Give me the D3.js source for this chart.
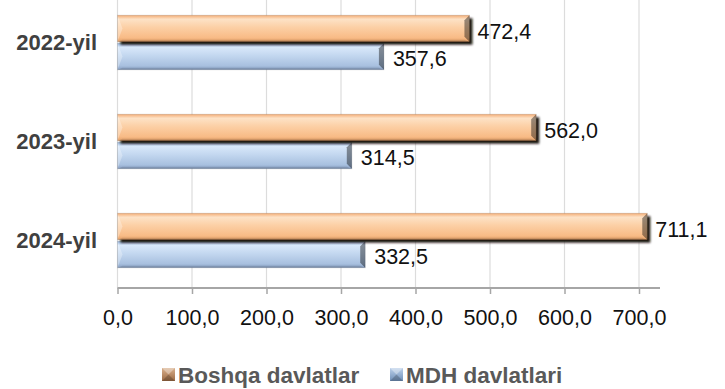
<!DOCTYPE html>
<html>
<head>
<meta charset="utf-8">
<script src="https://cdn.jsdelivr.net/npm/d3@7"></script>
<style>
  body { margin: 0; background: #fff; }
  svg { display: block; }
</style>
</head>
<body>
<div id="chart"></div>
<script>
// values
const years = ["2022-yil", "2023-yil", "2024-yil"];
const boshqa = [472.4, 562.0, 711.1];   // Boshqa davlatlar
const mdh = [357.6, 314.5, 332.5];      // MDH davlatlari
const ticks = [0, 100, 200, 300, 400, 500, 600, 700];
const seriesNames = ["Boshqa davlatlar", "MDH davlatlari"];

const W = 725, H = 389;
const left = 117.5, axisY = 288;

const fmt = v => v.toFixed(1).replace(".", ",");

let svg = d3.select("#chart").append("svg")
    .attr("width", W)
    .attr("height", H)
    .style("font-family", "'Liberation Sans', Arial, sans-serif");

let defs = svg.append("defs");

// gradients for the bevelled bars
function vgrad(id, stops) {
    let g = defs.append("linearGradient").attr("id", id)
        .attr("x1", 0).attr("y1", 0).attr("x2", 0).attr("y2", 1);
    stops.forEach(s => g.append("stop").attr("offset", s[0]).attr("stop-color", s[1]));
}
vgrad("gOrange", [[0, "#f4ad76"], [0.15, "#fde2c6"], [0.45, "#fcd0a6"], [0.85, "#f8bb86"], [1, "#e29f68"]]);
vgrad("gBlue", [[0, "#9bbae1"], [0.15, "#d9e8fa"], [0.45, "#c4d8f0"], [0.85, "#a8c0df"], [1, "#889fc2"]]);
vgrad("gOrangeM", [[0, "#d9b08c"], [1, "#9c6a44"]]);
vgrad("gBlueM", [[0, "#bcd0ea"], [1, "#6f8fb8"]]);

defs.append("filter").attr("id", "blur")
    .attr("x", "-10%").attr("y", "-30%").attr("width", "120%").attr("height", "160%")
  .append("feGaussianBlur").attr("stdDeviation", 1.2);

let x = d3.scaleLinear().domain([0, 700]).range([left, 639]);
let xMax = x.invert(660);

let y = d3.scaleBand().domain(years).range([-7, 290]).paddingInner(0.45).paddingOuter(0.225);
let ySub = d3.scaleBand().domain(seriesNames).range([0, y.bandwidth()]).paddingInner(0.06);

// vertical gridlines
svg.append("g").selectAll("line")
    .data(ticks)
    .join("line")
    .attr("x1", d => x(d)).attr("x2", d => x(d))
    .attr("y1", 0).attr("y2", axisY)
    .attr("stroke", "#dcdcdc")
    .attr("stroke-width", 1.2);

// bottom axis
let axis = d3.axisBottom(x.copy().domain([0, xMax]).range([left, 660]))
    .tickValues(ticks)
    .tickSize(6)
    .tickFormat(fmt);

let ax = svg.append("g")
    .attr("transform", `translate(0,${axisY})`)
    .call(axis);
ax.select(".domain").attr("stroke", "#a6a6a6").attr("stroke-width", 2)
    .attr("d", `M${left},0H660`);
ax.selectAll(".tick line").attr("stroke", "#a6a6a6").attr("stroke-width", 1.5);
ax.selectAll(".tick text")
    .attr("y", 22)
    .attr("fill", "#111")
    .style("font-size", "21.5px");

// bars
function bevelBar(g, x0, y0, w, h, fill) {
    let b = Math.min(5, h / 4);
    let x1 = x0 + w, y1 = y0 + h;
    g.append("rect").attr("x", x0).attr("y", y0).attr("width", w).attr("height", h)
        .attr("fill", fill);
    g.append("polygon")
        .attr("points", [[x0, y0], [x0 + b, y0 + h / 2], [x0, y1]].join(" "))
        .attr("fill", "#fff").attr("opacity", 0.3);
    g.append("polygon")
        .attr("points", [[x1, y0], [x1 - b, y0 + b], [x1 - b, y1 - b], [x1, y1]].join(" "))
        .attr("fill", "#000").attr("opacity", 0.4);
    g.append("polygon")
        .attr("points", [[x0, y1], [x1, y1], [x1 - b, y1 - 2], [x0 + b, y1 - 2]].join(" "))
        .attr("fill", "#000").attr("opacity", 0.12);
    g.append("rect").attr("x", x0).attr("y", y0).attr("width", w).attr("height", h)
        .attr("fill", "none").attr("stroke", "#000").attr("stroke-opacity", 0.12);
}

let rows = years.map((yr, i) => ({ yr, o: boshqa[i], m: mdh[i] }));

let grp = svg.append("g").selectAll("g")
    .data(rows)
    .join("g")
    .attr("transform", d => `translate(0,${y(d.yr)})`);

grp.each(function(d) {
    let g = d3.select(this);
    let yo = ySub(seriesNames[0]), ym = ySub(seriesNames[1]);
    let h = ySub.bandwidth();

    // blue (MDH) bar
    bevelBar(g, x(0), ym, x(d.m) - x(0), h, "url(#gBlue)");

    // shadow of orange bar
    g.append("rect")
        .attr("x", x(0) + 3).attr("y", yo + 3)
        .attr("width", x(d.o) - x(0)).attr("height", h)
        .attr("fill", "#1c140c")
        .attr("filter", "url(#blur)");
    bevelBar(g, x(0), yo, x(d.o) - x(0), h, "url(#gOrange)");

    g.append("text")
        .attr("x", x(d.o) + 8).attr("y", yo + h / 2 + 3)
        .attr("dy", "0.35em")
        .style("font-size", "21.5px").attr("fill", "#111")
        .text(fmt(d.o));
    g.append("text")
        .attr("x", x(d.m) + 9).attr("y", ym + h / 2 + 2)
        .attr("dy", "0.35em")
        .style("font-size", "21.5px").attr("fill", "#111")
        .text(fmt(d.m));
});

// category labels
svg.append("g").selectAll("text")
    .data(years)
    .join("text")
    .attr("x", 97)
    .attr("y", d => y(d) + y.bandwidth() / 2)
    .attr("dy", "0.35em")
    .attr("text-anchor", "end")
    .style("font-size", "22px")
    .style("font-weight", "bold")
    .attr("fill", "#404040")
    .text(d => d);

// legend
let legX = [162, 390];
let leg = svg.append("g").selectAll("g")
    .data(seriesNames)
    .join("g")
    .attr("transform", (d, i) => `translate(${legX[i]},368)`);

leg.each(function(d, i) {
    let g = d3.select(this);
    let s = 13;
    g.append("rect").attr("width", s).attr("height", s)
        .attr("fill", i === 0 ? "url(#gOrangeM)" : "url(#gBlueM)");
    g.append("polygon").attr("points", [[0, 0], [s, 0], [s / 2, s / 2]].join(" "))
        .attr("fill", "#fff").attr("opacity", 0.35);
    g.append("polygon").attr("points", [[0, s], [s, s], [s / 2, s / 2]].join(" "))
        .attr("fill", "#000").attr("opacity", 0.2);
    g.append("text")
        .attr("x", 16).attr("y", s / 2)
        .attr("dy", "0.36em")
        .style("font-size", "22.5px")
        .style("font-weight", "bold")
        .attr("fill", "#595959")
        .text(d);
});
</script>
</body>
</html>
